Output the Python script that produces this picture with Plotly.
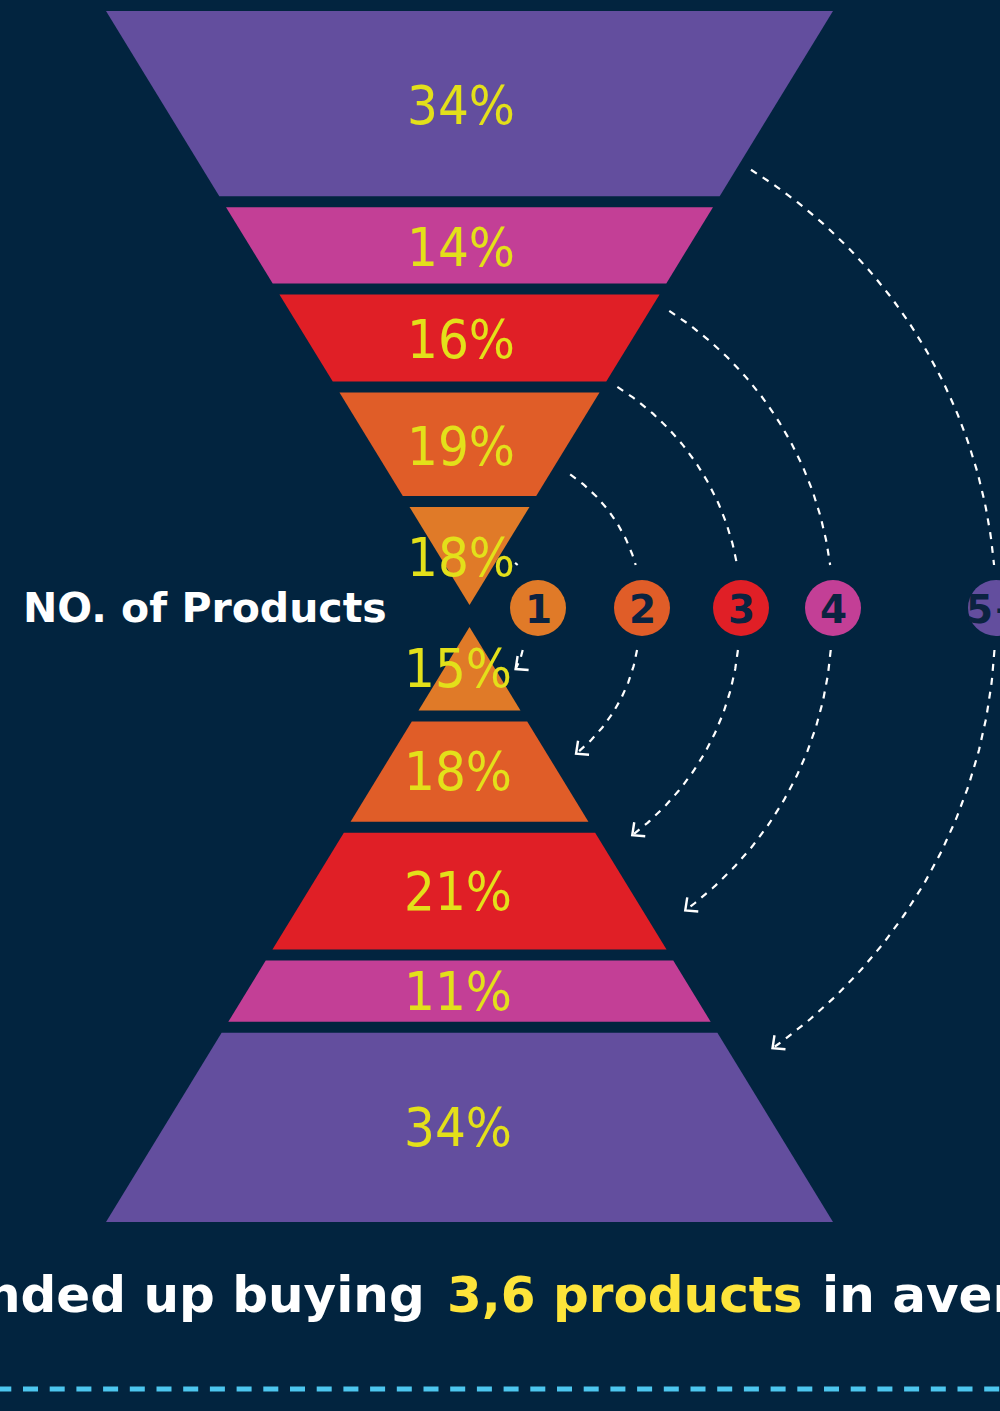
import numpy as np
import plotly.graph_objects as go

# ---------------- data ----------------
top_values = [34, 14, 16, 19, 18]
top_labels = ["34%", "14%", "16%", "19%", "18%"]
bottom_values = [15, 18, 21, 11, 34]
bottom_labels = ["15%", "18%", "21%", "11%", "34%"]
circle_labels = ["1", "2", "3", "4", "5+"]
axis_title = "NO. of Products"
caption_before = "ended up buying"
caption_highlight = "3,6 products"
caption_after = "in average"

# ---------------- style / layout constants ----------------
W, H = 1000, 1411
BG = "#02243F"
PURPLE, PINK, RED, ORED, ORANGE = "#634E9E", "#C33F96", "#E01F26", "#E05D28", "#E07A28"
top_colors = [PURPLE, PINK, RED, ORED, ORANGE]
bottom_colors = [ORANGE, ORED, RED, PINK, PURPLE]
circle_colors = [ORANGE, ORED, RED, PINK, PURPLE]
LABEL_YELLOW = "#E3E01A"
CAPTION_YELLOW = "#FDE43A"
DIGIT_COLOR = "#0B2340"

CX, HW = 469.5, 363.5
TOP_Y0, TOP_APEX, BOT_APEX, BOT_Y1, GAP = 11, 605, 627, 1222, 11
CIRCLE_X = [538, 642, 741, 833, 996]
CIRCLE_Y = 608
ARC_CX, ARC_CY = 478, 610
ARC_START_DEG = [-51.8, -55.8, -58.0, -57.4, -58.2]
ARC_END_DEG = [57.5, 55.7, 55.6, 55.4, 56.1]

PCT_FONT = "Liberation Sans Narrow, DejaVu Sans Condensed, Arial Narrow, sans-serif"
BOLD_FONT = "DejaVu Sans"


def segments(values, y0, y1):
    avail = (y1 - y0) - GAP * (len(values) - 1)
    scale = avail / sum(values)
    out, y = [], y0
    for v in values:
        h = v * scale
        out.append((y, y + h))
        y += h + GAP
    return out


fig = go.Figure()


def hw_top(y):
    return HW * (TOP_APEX - y) / (TOP_APEX - TOP_Y0)


def hw_bot(y):
    return HW * (y - BOT_APEX) / (BOT_Y1 - BOT_APEX)


annotations = []
for (a, b), col, lab in zip(segments(top_values, TOP_Y0, TOP_APEX), top_colors, top_labels):
    xs = [CX - hw_top(a), CX + hw_top(a), CX + hw_top(b), CX - hw_top(b), CX - hw_top(a)]
    ys = [a, a, b, b, a]
    fig.add_trace(go.Scatter(x=xs, y=ys, fill="toself", fillcolor=col, mode="lines",
                             line=dict(width=0, color=col), hoverinfo="skip", showlegend=False))
    annotations.append(dict(x=461, y=(a + b) / 2 + 2, text=lab, showarrow=False, xanchor="center",
                            yanchor="middle", font=dict(family=PCT_FONT, size=54, color=LABEL_YELLOW)))

for (a, b), col, lab in zip(segments(bottom_values, BOT_APEX, BOT_Y1), bottom_colors, bottom_labels):
    xs = [CX - hw_bot(a), CX + hw_bot(a), CX + hw_bot(b), CX - hw_bot(b), CX - hw_bot(a)]
    ys = [a, a, b, b, a]
    fig.add_trace(go.Scatter(x=xs, y=ys, fill="toself", fillcolor=col, mode="lines",
                             line=dict(width=0, color=col), hoverinfo="skip", showlegend=False))
    annotations.append(dict(x=458, y=(a + b) / 2, text=lab, showarrow=False, xanchor="center",
                            yanchor="middle", font=dict(family=PCT_FONT, size=54, color=LABEL_YELLOW)))

# ---- dashed arcs with arrowheads ----
for i, cxc in enumerate(CIRCLE_X):
    r0 = cxc - ARC_CX
    ts = np.radians(ARC_START_DEG[i])
    tu = np.arcsin(-45.0 / r0)
    if tu > ts:
        th = np.linspace(ts, tu, 60)
        fig.add_trace(go.Scatter(x=ARC_CX + r0 * np.cos(th), y=ARC_CY + r0 * np.sin(th),
                                 mode="lines", line=dict(color="white", width=2.2, dash="7px,7px"),
                                 hoverinfo="skip", showlegend=False))
    tl = np.arcsin(40.0 / r0)
    te = np.radians(ARC_END_DEG[i])
    th = np.linspace(tl, te, 80)
    r = r0 + 10 * (th - tl) / (te - tl)
    xs = ARC_CX + r * np.cos(th)
    ys = ARC_CY + r * np.sin(th)
    fig.add_trace(go.Scatter(x=xs, y=ys, mode="lines",
                             line=dict(color="white", width=2.2, dash="7px,7px"),
                             hoverinfo="skip", showlegend=False))
    tx, ty = xs[-1], ys[-1]
    fig.add_trace(go.Scatter(x=[tx + 2, tx, tx + 13], y=[ty - 13, ty, ty + 1], mode="lines",
                             line=dict(color="white", width=2.4), hoverinfo="skip", showlegend=False))

# ---- numbered circles ----
fig.add_trace(go.Scatter(x=CIRCLE_X, y=[CIRCLE_Y] * len(CIRCLE_X), mode="markers",
                         marker=dict(size=56, color=circle_colors, line=dict(width=0)),
                         hoverinfo="skip", showlegend=False))
for cxc, lab in zip(CIRCLE_X, circle_labels):
    annotations.append(dict(x=cxc, y=CIRCLE_Y + 1, text=f"<b>{lab}</b>", showarrow=False,
                            xanchor="center", yanchor="middle",
                            font=dict(family=BOLD_FONT, size=39, color=DIGIT_COLOR)))

# ---- texts ----
annotations.append(dict(x=205, y=CIRCLE_Y, text=f"<b>{axis_title}</b>", showarrow=False,
                        xanchor="center", yanchor="middle",
                        font=dict(family=BOLD_FONT, size=41, color="white")))
cap_y = 1295
annotations.append(dict(x=427, y=cap_y, text=f"<b>{caption_before}</b>", showarrow=False,
                        xanchor="right", yanchor="middle",
                        font=dict(family=BOLD_FONT, size=50, color="white")))
annotations.append(dict(x=445, y=cap_y, text=f"<b>{caption_highlight}</b>", showarrow=False,
                        xanchor="left", yanchor="middle",
                        font=dict(family=BOLD_FONT, size=50, color=CAPTION_YELLOW)))
annotations.append(dict(x=820, y=cap_y, text=f"<b>{caption_after}</b>", showarrow=False,
                        xanchor="left", yanchor="middle",
                        font=dict(family=BOLD_FONT, size=50, color="white")))

fig.add_shape(type="line", x0=-3.7, x1=1010, y0=1389, y1=1389, xref="x", yref="y",
              line=dict(color="#4DC6EE", width=5, dash="15px,11.7px"))

fig.update_layout(
    width=W, height=H, margin=dict(l=0, r=0, t=0, b=0),
    paper_bgcolor=BG, plot_bgcolor=BG, showlegend=False,
    xaxis=dict(range=[0, W], visible=False, fixedrange=True),
    yaxis=dict(range=[H, 0], visible=False, fixedrange=True),
    annotations=annotations,
)

fig.write_html("out.html")
